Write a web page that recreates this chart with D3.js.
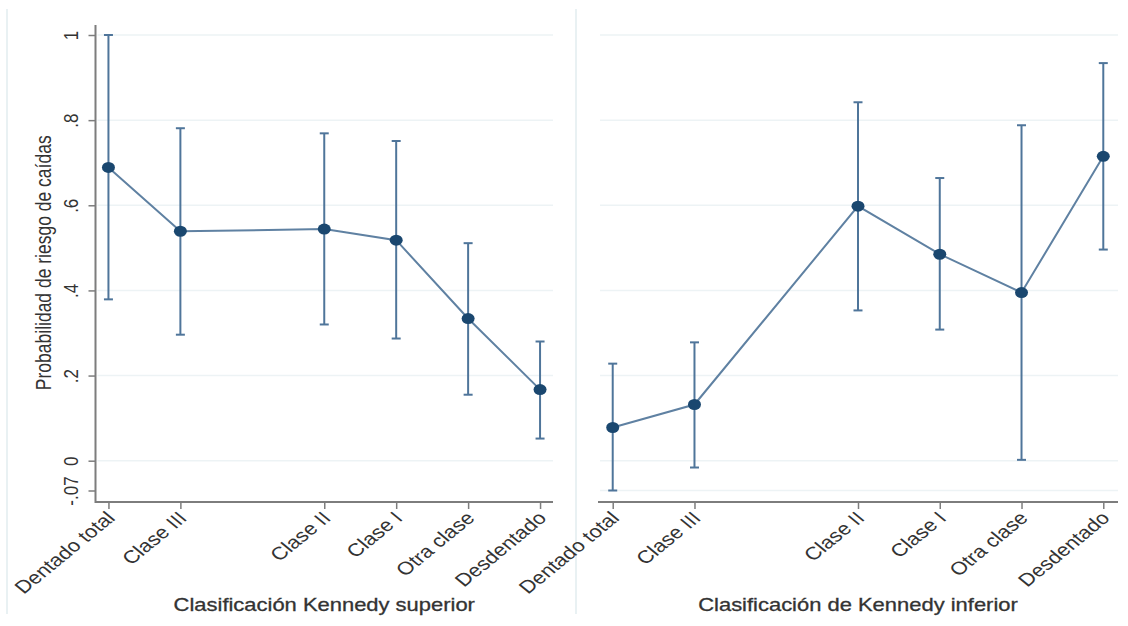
<!DOCTYPE html>
<html>
<head>
<meta charset="utf-8">
<script src="https://cdn.jsdelivr.net/npm/d3@7"></script>
<style>
  html, body { margin: 0; padding: 0; background: #ffffff; }
  svg { display: block; font-family: "Liberation Sans", Arial, sans-serif; }
</style>
</head>
<body>
<svg id="chart" width="1128" height="626"></svg>
<script>
// ---- data ----
const categories = ["Dentado total", "Clase III", "Clase II", "Clase I", "Otra clase", "Desdentado"];
const levelCodes = [1, 2, 4, 5, 6, 7];

const superiorMean  = [0.689, 0.539, 0.544, 0.518, 0.334, 0.167];
const superiorLower = [0.379, 0.296, 0.320, 0.287, 0.155, 0.052];
const superiorUpper = [1.000, 0.781, 0.769, 0.751, 0.511, 0.280];

const inferiorMean  = [0.078, 0.132, 0.598, 0.485, 0.395, 0.715];
const inferiorLower = [-0.070, -0.016, 0.353, 0.308, 0.002, 0.496];
const inferiorUpper = [0.228, 0.278, 0.842, 0.664, 0.788, 0.934];

const yTickValues = [-0.07, 0, 0.2, 0.4, 0.6, 0.8, 1];
const yTickLabels = ["-.07", "0", ".2", ".4", ".6", ".8", "1"];

const yTitle = "Probabilidad de riesgo de caídas";
const panelTitles = ["Clasificación Kennedy superior", "Clasificación de Kennedy inferior"];

// ---- layout ----
const svg = d3.select("#chart");
const TEXT = "#333333";
const AXIS = "#7d7d7d";
const GRID = "#edf3f5";
const BAR = "#4f759a";
const LINE = "#5f81a2";
const DOT = "#1a476f";
const SX = 1.22; // horizontal stretch of the reference image

const plotTop = 35, plotBottom = 490.5, axisY = 502;
const y = d3.scaleLinear().domain([-0.07, 1]).range([plotBottom, plotTop]);

const panels = [
  { title: panelTitles[0], mean: superiorMean, lower: superiorLower, upper: superiorUpper,
    x0: 95.5, x1: 553, showY: true, gridVals: [0, 0.2, 0.4, 0.6, 0.8, 1] },
  { title: panelTitles[1], mean: inferiorMean, lower: inferiorLower, upper: inferiorUpper,
    x0: 598, x1: 1118, showY: false, gridVals: yTickValues }
];

// faint panel borders
[7, 576].forEach(bx => {
  svg.append("line").attr("x1", bx).attr("x2", bx).attr("y1", 9).attr("y2", 614)
    .attr("stroke", "#e9f1f3").attr("stroke-width", 2);
});

panels.forEach(p => {
  const x = d3.scaleLinear().domain([0.82, 7.18]).range([p.x0, p.x1]);
  const g = svg.append("g");

  // gridlines
  g.selectAll("line.grid").data(p.gridVals).join("line")
    .attr("class", "grid")
    .attr("x1", p.x0 + 2).attr("x2", p.x1)
    .attr("y1", d => y(d)).attr("y2", d => y(d))
    .attr("stroke", GRID).attr("stroke-width", 1.5);

  // y axis
  if (p.showY) {
    const ya = g.append("g").attr("transform", `translate(${p.x0},0)`)
      .call(d3.axisLeft(y).tickValues(yTickValues)
        .tickFormat((d, i) => yTickLabels[i]).tickSize(7).tickSizeOuter(0));
    ya.select(".domain").remove();
    ya.selectAll(".tick line").attr("stroke", AXIS).attr("stroke-width", 1.5);
    ya.selectAll(".tick text")
      .attr("x", null).attr("dy", null)
      .attr("transform", `translate(-25,0) scale(${SX},1) rotate(-90)`)
      .attr("text-anchor", "middle").attr("dy", "0.35em")
      .attr("fill", TEXT).attr("font-size", 17)
      .style("font-family", "'Liberation Sans', Arial, sans-serif");
    g.append("line").attr("x1", p.x0).attr("x2", p.x0).attr("y1", 25).attr("y2", axisY + 1)
      .attr("stroke", AXIS).attr("stroke-width", 2);

    g.append("text")
      .attr("transform", `translate(44,${(plotTop + plotBottom) / 2}) scale(${SX},1) rotate(-90)`)
      .attr("text-anchor", "middle").attr("dy", "0.35em")
      .attr("font-size", 17.5).attr("fill", TEXT)
      .text(yTitle);
  }

  // x axis
  const xa = g.append("g").attr("transform", `translate(0,${axisY})`)
    .call(d3.axisBottom(x).tickValues(levelCodes)
      .tickFormat((d, i) => categories[i]).tickSize(7).tickSizeOuter(0));
  xa.select(".domain").remove();
  xa.selectAll(".tick line").attr("stroke", AXIS).attr("stroke-width", 1.5);
  xa.selectAll(".tick text")
    .attr("y", null).attr("dy", null)
    .attr("transform", `translate(-4,8) scale(${SX},1) rotate(-45)`)
    .attr("text-anchor", "end").attr("dy", "0.72em")
    .attr("fill", TEXT).attr("font-size", 18)
    .style("font-family", "'Liberation Sans', Arial, sans-serif");
  g.append("line").attr("x1", p.x0).attr("x2", p.x1).attr("y1", axisY).attr("y2", axisY)
    .attr("stroke", AXIS).attr("stroke-width", 2);

  // x title
  g.append("text")
    .attr("transform", `translate(${(p.x0 + p.x1) / 2},611) scale(${SX},1)`)
    .attr("text-anchor", "middle")
    .attr("font-size", 18).attr("fill", TEXT)
    .attr("stroke", TEXT).attr("stroke-width", 0.3)
    .text(p.title);

  const rows = levelCodes.map((c, i) => ({ c, m: p.mean[i], lo: p.lower[i], hi: p.upper[i] }));

  // error bars
  g.selectAll("line.eb").data(rows).join("line").attr("class", "eb")
    .attr("x1", d => x(d.c)).attr("x2", d => x(d.c))
    .attr("y1", d => y(d.lo)).attr("y2", d => y(d.hi))
    .attr("stroke", BAR).attr("stroke-width", 2);
  ["lo", "hi"].forEach(k => {
    g.selectAll("line.cap" + k).data(rows).join("line").attr("class", "cap" + k)
      .attr("x1", d => x(d.c) - 4.5).attr("x2", d => x(d.c) + 4.5)
      .attr("y1", d => y(d[k])).attr("y2", d => y(d[k]))
      .attr("stroke", BAR).attr("stroke-width", 2);
  });

  // connecting line
  g.append("path").datum(rows)
    .attr("d", d3.line().x(d => x(d.c)).y(d => y(d.m)))
    .attr("fill", "none").attr("stroke", LINE).attr("stroke-width", 2);

  // points
  g.selectAll("ellipse.pt").data(rows).join("ellipse").attr("class", "pt")
    .attr("cx", d => x(d.c)).attr("cy", d => y(d.m))
    .attr("rx", 6.5).attr("ry", 5.5)
    .attr("fill", DOT);
});
</script>
</body>
</html>
